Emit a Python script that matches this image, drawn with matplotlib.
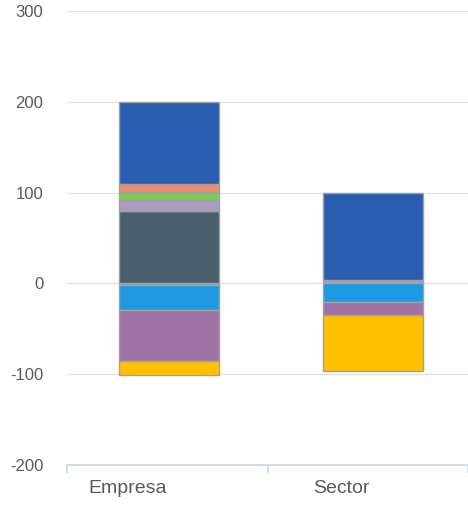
import matplotlib.pyplot as plt
import numpy as np

plt.rcParams['font.family'] = ['Liberation Sans', 'DejaVu Sans']
plt.rcParams['axes.unicode_minus'] = False

categorias = ['Empresa', 'Sector']
# segmentos apilados (de abajo hacia arriba en positivo, de 0 hacia abajo en negativo)
gris = np.array([-2, 4])
pizarra = np.array([80, 0])
lavanda = np.array([12, 0])
verde = np.array([9, 0])
salmon = np.array([8, 0])
azul = np.array([91, 96])
celeste = np.array([-27, -20])
morado = np.array([-56, -15])
amarillo = np.array([-16, -62])

series = [
    (gris, '#A5A5A5'),
    (pizarra, '#4A5F6E'),
    (lavanda, '#A99CC0'),
    (verde, '#7DCB57'),
    (salmon, '#F38B6F'),
    (azul, '#2A5DB0'),
    (celeste, '#1E9AE3'),
    (morado, '#A073A6'),
    (amarillo, '#FFC000'),
]

fig = plt.figure(figsize=(4.68, 5.05), dpi=100)
ax = fig.add_axes([67/468, 1-465/505, 1-67/468, 454/505])

x = np.array([0.01, 1.025])
pos = np.zeros(len(categorias))
neg = np.zeros(len(categorias))
for vals, col in series:
    base = np.where(vals >= 0, pos, neg)
    ax.bar(x, vals, 0.5, bottom=base, color=col, edgecolor='#A0A0A0', linewidth=1, zorder=3)
    pos = pos + np.where(vals >= 0, vals, 0)
    neg = neg + np.where(vals < 0, vals, 0)

ax.set_xlim(-0.5, 1.5)
ax.set_ylim(-200, 300)
ax.set_yticks([-200, -100, 0, 100, 200, 300])
ax.grid(axis='y', color='#E2E2E2', linewidth=1, zorder=0)
ax.tick_params(axis='y', length=0, pad=17, labelsize=12, labelcolor='#595959')

for s in ['left', 'right', 'top']:
    ax.spines[s].set_visible(False)
ax.spines['bottom'].set_color('#C9D6EC')
ax.spines['bottom'].set_linewidth(1.2)

# separadores de categoria y etiquetas
ax.set_xticks([-0.5, 0.5, 1.5])
ax.set_xticklabels([])
ax.tick_params(axis='x', which='major', length=6, color='#C9D6EC', width=1.2)
ax.set_xticks([-0.196, 0.87], minor=True)
ax.set_xticklabels(categorias, minor=True)
ax.tick_params(axis='x', which='minor', length=0, pad=10.5, labelsize=14, labelcolor='#595959')

fig.savefig('out.png', dpi=100)
